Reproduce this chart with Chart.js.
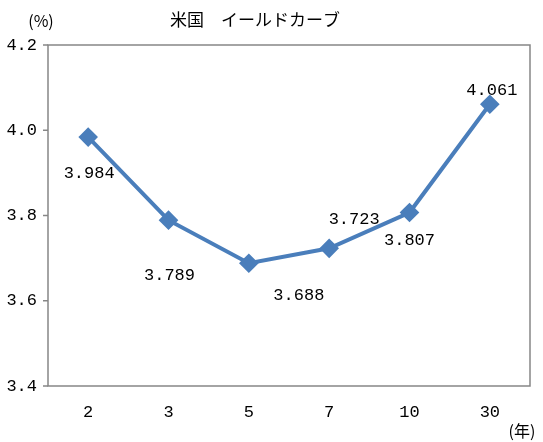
<!DOCTYPE html>
<html><head><meta charset="utf-8">
<script src="https://cdn.jsdelivr.net/npm/chart.js@4/dist/chart.umd.min.js"></script>
<style>html,body{margin:0;padding:0;background:#fff;}canvas{display:block;}</style>
</head><body>
<canvas id="c" width="543" height="442"></canvas>
<script>
const categories = ['2', '3', '5', '7', '10', '30'];
const yields = [3.984, 3.789, 3.688, 3.723, 3.807, 4.061];
const yTicks = [3.4, 3.6, 3.8, 4.0, 4.2];
const title = '米国　イールドカーブ';
const yUnit = '(%)';
const xUnit = '(年)';
const labelOffsets = [[1, 36], [1, 55], [50, 32], [25, -29], [0, 28], [2, -14]];

const numFont = '"Liberation Mono", "DejaVu Sans Mono", monospace';
const jpFont = '"Noto Sans CJK JP", sans-serif';

const extras = {
  id: 'extras',
  afterDatasetsDraw(chart) {
    const ctx = chart.ctx, a = chart.chartArea;
    ctx.save();
    ctx.strokeStyle = '#868686';
    ctx.lineWidth = 1.5;
    ctx.strokeRect(a.left, a.top, a.right - a.left, a.bottom - a.top);
    chart.scales.y.ticks.forEach(t => {
      const y = chart.scales.y.getPixelForValue(t.value);
      ctx.beginPath(); ctx.moveTo(a.left - 5, y); ctx.lineTo(a.left, y); ctx.stroke();
    });
    const meta = chart.getDatasetMeta(0);
    ctx.fillStyle = '#000';
    ctx.font = '17px ' + numFont;
    ctx.textAlign = 'center';
    ctx.textBaseline = 'middle';
    meta.data.forEach((p, i) => {
      const o = labelOffsets[i];
      ctx.fillText(yields[i].toFixed(3), p.x + o[0], p.y + o[1]);
    });
    ctx.font = '17px ' + jpFont;
    ctx.fillText(title, 255, 20);
    ctx.font = '16px ' + jpFont;
    ctx.fillText(yUnit, 41, 21);
    ctx.fillText(xUnit, 522, 431);
    ctx.restore();
  }
};

new Chart(document.getElementById('c'), {
  type: 'line',
  data: {
    labels: categories,
    datasets: [{
      data: yields,
      borderColor: '#4a7ebb',
      backgroundColor: '#4a7ebb',
      borderWidth: 4,
      pointStyle: 'rectRot',
      pointRadius: 7,
      pointHoverRadius: 7,
      tension: 0
    }]
  },
  options: {
    responsive: false,
    devicePixelRatio: 1,
    animation: false,
    layout: { padding: { top: 45, right: 13, bottom: 0, left: 0 } },
    plugins: { legend: { display: false }, tooltip: { enabled: false }, title: { display: false } },
    scales: {
      x: {
        offset: true,
        grid: { display: false, offset: true },
        border: { display: false },
        ticks: { color: '#000', font: { family: numFont, size: 17 }, padding: 8 },
        afterFit: s => { s.height = 56; }
      },
      y: {
        min: 3.4, max: 4.2,
        afterBuildTicks: s => { s.ticks = yTicks.map(v => ({ value: v })); },
        grid: { display: false },
        border: { display: false },
        ticks: { color: '#000', font: { family: numFont, size: 17 }, padding: 3,
                 callback: v => Number(v).toFixed(1) },
        afterFit: s => { s.width = 48; }
      }
    }
  },
  plugins: [extras]
});
</script>
</body></html>
